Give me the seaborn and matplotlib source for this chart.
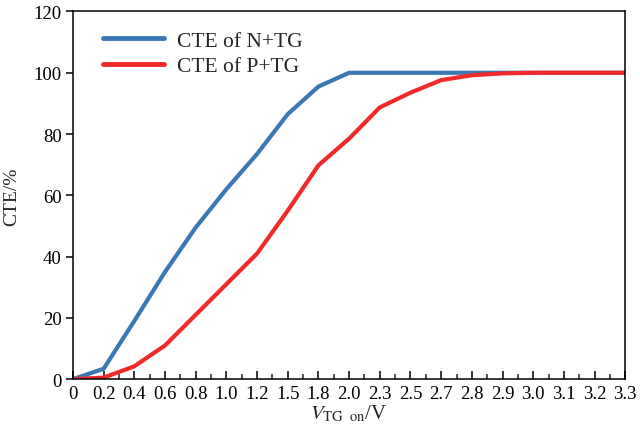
import matplotlib
matplotlib.use("Agg")
import matplotlib.pyplot as plt
import seaborn as sns
import pandas as pd
import numpy as np
from matplotlib.ticker import MultipleLocator, FixedLocator

x_labels = ["0", "0.2", "0.4", "0.6", "0.8", "1.0", "1.2", "1.5", "1.8", "2.0",
            "2.3", "2.5", "2.7", "2.8", "2.9", "3.0", "3.1", "3.2", "3.3"]
cte_n_tg = [0, 3.4, 19, 35, 49.5, 62, 73.5, 86.5, 95.5, 100,
            100, 100, 100, 100, 100, 100, 100, 100, 100]
cte_p_tg = [0, 0.5, 4.2, 11, 21, 31, 41, 55, 69.8, 78.5,
            88.7, 93.5, 97.6, 99.2, 99.8, 100, 100, 100, 100]
series_names = ["CTE of N+TG", "CTE of P+TG"]
colors = ["#3a78b4", "#f02a2a"]

sns.set_theme(style="ticks")
plt.rcParams["font.family"] = ["Liberation Serif", "DejaVu Serif"]
plt.rcParams["mathtext.fontset"] = "stix"

pos = list(range(len(x_labels)))
df = pd.DataFrame({
    "pos": pos * 2,
    "CTE": cte_n_tg + cte_p_tg,
    "series": [series_names[0]] * len(pos) + [series_names[1]] * len(pos),
})

fig = plt.figure(figsize=(6.4, 4.31), dpi=100)
ax = fig.add_axes([0.114, 0.118, 0.863, 0.853])
sns.lineplot(data=df, x="pos", y="CTE", hue="series", palette=colors,
             linewidth=3.0, ax=ax, legend=True)

ax.set_xlim(0, len(x_labels) - 1)
ax.set_ylim(0, 120)
ax.xaxis.set_major_locator(FixedLocator(pos))
ax.set_xticklabels(x_labels)
ax.xaxis.set_minor_locator(MultipleLocator(0.5))
ax.yaxis.set_major_locator(MultipleLocator(20))

for s in ax.spines.values():
    s.set_color("black")
    s.set_linewidth(1.1)

ax.tick_params(axis="x", which="major", direction="in", length=6, width=1.1,
               labelsize=13.5, colors="black", pad=4)
ax.tick_params(axis="x", which="minor", direction="in", length=3.5, width=1.1)
ax.tick_params(axis="y", which="major", direction="out", length=5, width=1.1,
               labelsize=13.5, colors="black", pad=3)

ax.set_xlabel(r"$V_{\mathrm{TG\ \ on}}$/V", fontsize=15, labelpad=1)
ax.set_ylabel("CTE/%", fontsize=14, labelpad=10)

leg = ax.legend(loc="upper left", frameon=False, fontsize=15.5,
                handlelength=2.8, handletextpad=0.6, labelspacing=0.25,
                bbox_to_anchor=(0.02, 1.0))
for line in leg.get_lines():
    line.set_linewidth(3.5)

fig.savefig("out.png", dpi=100)
